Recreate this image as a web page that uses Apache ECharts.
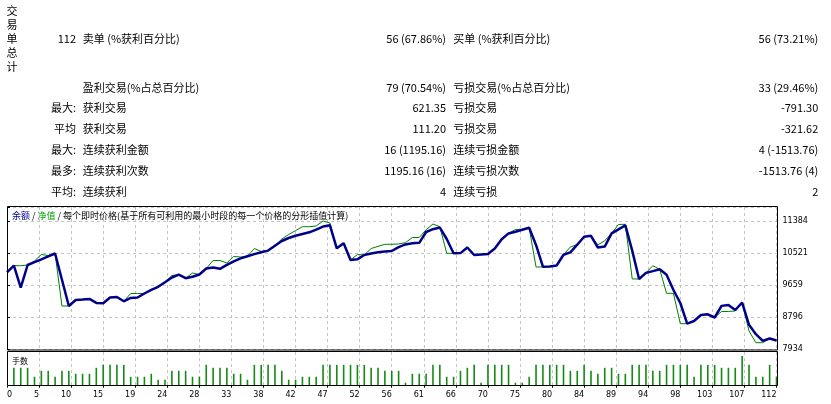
<!DOCTYPE html>
<html><head><meta charset="utf-8">
<script src="https://cdn.jsdelivr.net/npm/echarts@6/dist/echarts.min.js"></script>
<style>html,body{margin:0;padding:0;background:#fff;}#c{width:831px;height:404px;}</style>
</head><body><div id="c"></div>
<script>
// ---------- data ----------
const sideTitle = '交易单总计';
const tableRows = [
  ['112', '卖单 (%获利百分比)', '56 (67.86%)', '买单 (%获利百分比)', '56 (73.21%)'],
  ['', '盈利交易(%占总百分比)', '79 (70.54%)', '亏损交易(%占总百分比)', '33 (29.46%)'],
  ['最大:', '获利交易', '621.35', '亏损交易', '-791.30'],
  ['平均', '获利交易', '111.20', '亏损交易', '-321.62'],
  ['最大:', '连续获利金额', '16 (1195.16)', '连续亏损金额', '4 (-1513.76)'],
  ['最多:', '连续获利次数', '1195.16 (16)', '连续亏损次数', '-1513.76 (4)'],
  ['平均:', '连续获利', '4', '连续亏损', '2']
];
const titleBalance = '余额';
const titleEquity = '净值';
const titleRest = '每个即时价格(基于所有可利用的最小时段的每一个价格的分形插值计算)';
const volumeTitle = '手数';
const xTickLabels = ['0','5','10','15','19','24','28','33','38','42','47','52','56','61','66','70','75','80','84','89','94','98','103','107','112'];
const yTickLabels = ['7934','8796','9659','10521','11384'];

// balance after each trade (index 0 = initial deposit)
const balance = [
  10000, 10179, 9586, 10198, 10276, 10351, 10430, 10508, 9799, 9093,
  9255, 9268, 9284, 9176, 9168, 9322, 9335, 9220, 9311, 9322,
  9430, 9527, 9610, 9734, 9861, 9936, 9842, 9880, 9942, 10103,
  10130, 10095, 10203, 10298, 10376, 10435, 10492, 10540, 10586, 10718,
  10845, 10925, 10985, 11033, 11079, 11152, 11235, 11268, 10648, 10783,
  10333, 10351, 10467, 10510, 10540, 10562, 10575, 10680, 10753, 10783,
  10796, 11087, 11163, 11208, 10899, 10513, 10518, 10669, 10467, 10481,
  10494, 10642, 10890, 11049, 11095, 11146, 11203, 10737, 10152, 10155,
  10184, 10473, 10540, 10745, 10960, 10985, 10667, 10694, 11052, 11160,
  11265, 10586, 9821, 9985, 10033, 10082, 9934, 9524, 9174, 8616,
  8689, 8850, 8869, 8783, 9096, 9120, 8985, 9187, 8586, 8333,
  8152, 8217, 8163
];
// equity at each trade index
const equity = [
  10000, 10179, 10179, 10198, 10306, 10481, 10454, 10508, 9093, 9093,
  9255, 9268, 9284, 9176, 9168, 9322, 9335, 9220, 9430, 9430,
  9430, 9527, 9610, 9734, 9915, 9936, 9842, 9982, 9942, 10103,
  10319, 10319, 10252, 10427, 10413, 10435, 10642, 10562, 10586, 10718,
  10899, 11020, 11125, 11230, 11230, 11249, 11384, 11330, 10648, 10783,
  10333, 10481, 10467, 10642, 10700, 10756, 10756, 10765, 10800, 10939,
  10939, 11150, 11303, 11230, 10513, 10513, 10518, 10669, 10467, 10481,
  10494, 10642, 10890, 11049, 11155, 11160, 11203, 10144, 10144, 10155,
  10184, 10473, 10683, 10745, 10960, 10985, 10737, 10850, 11052, 11290,
  11295, 9821, 9821, 9985, 10179, 10082, 9435, 9435, 8616, 8616,
  8689, 8850, 8869, 8783, 8945, 8945, 8958, 9187, 8419, 8104,
  8104, 8217, 8163
];
// lots of trades 1..112
const volume = [
  0.6, 0.6, 0.6, 0.3, 0.5, 0.5, 0.3, 0.5, 0.5, 0.4,
  0.4, 0.4, 0.6, 0.7, 0.7, 0.7, 0.7, 0.3, 0.3, 0.3,
  0.4, 0.2, 0.2, 0.5, 0.5, 0.5, 0.3, 0.3, 0.7, 0.6,
  0.6, 0.6, 0.4, 0.4, 0.2, 0.7, 0.7, 0.7, 0.7, 0.5,
  0.2, 0.2, 0.3, 0.3, 0.3, 0.7, 0.7, 0.7, 0.7, 0.7,
  0.7, 0.7, 0.6, 0.6, 0.5, 0.5, 0.5, 0.1, 0.4, 0.4,
  0.4, 0.7, 0.7, 0.3, 0.3, 0.5, 0.6, 0.7, 0.1, 0.7,
  0.7, 0.7, 0.7, 0.1, 0.1, 0.3, 0.7, 0.7, 0.7, 0.7,
  0.7, 0.5, 0.5, 0.7, 0.5, 0.4, 0.6, 0.6, 0.4, 0.4,
  0.7, 0.7, 0.7, 0.5, 0.5, 0.7, 0.7, 0.7, 0.7, 0.3,
  0.7, 0.7, 0.7, 0.6, 0.6, 0.6, 1.0, 0.7, 0.3, 0.3,
  0.7, 0.3
];

// ---------- chart ----------
const xMax = Number(xTickLabels[xTickLabels.length - 1]);
const xStep = xMax / (xTickLabels.length - 1);
const yMin = Number(yTickLabels[0]);
const yStep = (Number(yTickLabels[yTickLabels.length - 1]) - yMin) / (yTickLabels.length - 1);

const chart = echarts.init(document.getElementById('c'), null, {renderer: 'canvas'});
const gridColor = '#c4c4c4';
const numFont = 'DejaVu Sans';
const cjk = 'Noto Sans CJK SC';

function xFmt(v) {
  const k = Math.round(v / xStep);
  return Math.abs(v - k * xStep) < 0.01 ? (xTickLabels[k] || '') : '';
}
function yFmt(v) {
  const k = Math.round((v - yMin) / yStep);
  return (k >= 0 && k < yTickLabels.length && Math.abs(v - (yMin + k * yStep)) < 0.5) ? yTickLabels[k] : '';
}

const graphics = [];
graphics.push({type: 'text', x: 12, y: 4, z: 50, style: {
  text: sideTitle.split('').join('\n'), fill: '#000', font: '11px "' + cjk + '"',
  lineHeight: 14, textAlign: 'center', textVerticalAlign: 'top'}});
const rowY = [39, 87.7, 108.3, 129, 150, 171.3, 192];
const colX = [76, 82.7, 446, 453.3, 818.3];
const colAlign = ['right', 'left', 'right', 'left', 'right'];
tableRows.forEach((row, r) => {
  row.forEach((cell, c) => {
    if (!cell) return;
    graphics.push({type: 'text', x: colX[c], y: rowY[r], z: 50, style: {
      text: cell, fill: '#000', font: '11px "' + cjk + '"',
      textAlign: colAlign[c], textVerticalAlign: 'middle'}});
  });
});
graphics.push({type: 'text', x: 12, y: 216, z: 50, style: {
  text: '{a|' + titleBalance + '}{k| / }{b|' + titleEquity + '}{k| / ' + titleRest + '}',
  textVerticalAlign: 'middle', textAlign: 'left',
  rich: {
    a: {fill: '#000090', fontSize: 9, fontFamily: cjk},
    b: {fill: '#00a000', fontSize: 9, fontFamily: cjk},
    k: {fill: '#000', fontSize: 9, fontFamily: cjk}
  }}});
graphics.push({type: 'text', x: 12, y: 360.5, z: 50, style: {
  text: volumeTitle, fill: '#000', font: '8px "' + cjk + '"', textAlign: 'left', textVerticalAlign: 'middle'}});
graphics.push({type: 'rect', z: 100, shape: {x: 7.5, y: 206.5, width: 770, height: 143.5},
  style: {fill: 'none', stroke: '#000', lineWidth: 1}});
graphics.push({type: 'rect', z: 100, shape: {x: 7.5, y: 351.5, width: 770, height: 34},
  style: {fill: 'none', stroke: '#000', lineWidth: 1}});

const option = {
  animation: false,
  backgroundColor: '#fff',
  grid: [
    {left: 7, right: 54.5, top: 207, bottom: 55},
    {left: 7, right: 54.5, top: 352, bottom: 18.3}
  ],
  xAxis: [
    {type: 'value', gridIndex: 0, min: 0, max: xMax, interval: xStep,
      axisLine: {show: false}, axisTick: {show: false}, axisLabel: {show: false},
      splitLine: {show: true, lineStyle: {color: gridColor, type: [3, 3], width: 1}}},
    {type: 'value', gridIndex: 1, min: 0, max: xMax, interval: xStep,
      axisLine: {show: false},
      axisTick: {show: true, length: 2, lineStyle: {color: '#000'}},
      axisLabel: {show: true, formatter: xFmt, color: '#000', fontSize: 8, fontFamily: numFont,
        margin: 5, align: 'right', alignMinLabel: 'left', alignMaxLabel: 'right'},
      splitLine: {show: true, lineStyle: {color: gridColor, type: [3, 3], width: 1}}}
  ],
  yAxis: [
    {type: 'value', gridIndex: 0, position: 'right', min: yMin, max: 11761, interval: yStep,
      axisLine: {show: false},
      axisTick: {show: true, length: 3, lineStyle: {color: '#000'}},
      axisLabel: {formatter: yFmt, color: '#000', fontSize: 8, fontFamily: numFont, margin: 6,
        padding: [5, 0, 0, 0]},
      splitLine: {show: true, lineStyle: {color: gridColor, type: [3, 3], width: 1}}},
    {type: 'value', gridIndex: 1, min: 0, max: 1.13, show: false, splitLine: {show: false}}
  ],
  series: [
    {name: '净值', type: 'line', xAxisIndex: 0, yAxisIndex: 0, z: 2,
      data: equity.map((v, i) => [i, v]), showSymbol: false, symbol: 'none',
      lineStyle: {color: '#008000', width: 1}},
    {name: '余额', type: 'line', xAxisIndex: 0, yAxisIndex: 0, z: 3,
      data: balance.map((v, i) => [i, v]), showSymbol: false, symbol: 'none',
      lineStyle: {color: '#00008b', width: 2.5}},
    {name: '手数', type: 'bar', xAxisIndex: 1, yAxisIndex: 1, z: 2,
      data: volume.map((v, i) => [i + 1, v]), barWidth: 1.6,
      itemStyle: {color: '#138a13'}}
  ],
  graphic: graphics
};
chart.setOption(option);
</script>
</body></html>
